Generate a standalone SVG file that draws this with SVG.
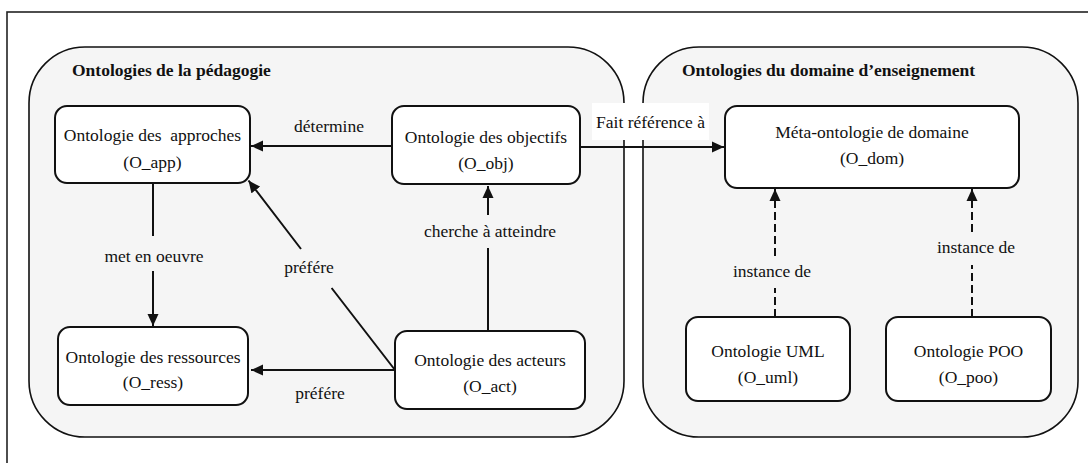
<svg xmlns="http://www.w3.org/2000/svg" width="1088" height="463" viewBox="0 0 1088 463">
<style>
text{font-family:"Liberation Serif","Times New Roman",Tinos,"DejaVu Serif",serif;font-size:17.5px;fill:#111;text-anchor:middle}
.title{font-weight:bold;text-anchor:start}
.cont{fill:#f5f5f5;stroke:#111;stroke-width:1.6}
.node{fill:#fff;stroke:#111;stroke-width:2}
.edge{fill:none;stroke:#111;stroke-width:2}
.dash{stroke-dasharray:8,4}
</style>
<defs>
<marker id="arr" markerUnits="userSpaceOnUse" markerWidth="13" markerHeight="12" refX="12" refY="6" orient="auto">
<path d="M0,0.5 L12,6 L0,11.5 z" fill="#111" stroke="none"/>
</marker>
</defs>
<rect x="7" y="12" width="1100" height="470" fill="#fff" stroke="#222" stroke-width="1.6"/>
<g id="container-pedagogie">
<rect class="cont" x="29" y="47" width="595" height="390" rx="56" ry="56"/>
<text class="title" x="72" y="76">Ontologies de la pédagogie</text>
</g>
<g id="container-domaine">
<rect class="cont" x="643" y="47" width="435" height="390" rx="56" ry="56"/>
<text class="title" x="682" y="76">Ontologies du domaine d’enseignement</text>
</g>
<g id="O_app">
<rect class="node" x="55" y="106" width="195" height="77" rx="12"/>
<text x="152.5" y="141" xml:space="preserve">Ontologie des  approches</text>
<text x="152.5" y="168">(O_app)</text>
</g>
<g id="O_obj">
<rect class="node" x="392" y="106" width="188" height="78" rx="12"/>
<text x="486" y="143">Ontologie des objectifs</text>
<text x="486" y="169">(O_obj)</text>
</g>
<g id="O_ress">
<rect class="node" x="58" y="327" width="190" height="78" rx="12"/>
<text x="153" y="363">Ontologie des ressources</text>
<text x="153" y="388">(O_ress)</text>
</g>
<g id="O_act">
<rect class="node" x="395" y="331" width="190" height="78" rx="12"/>
<text x="490" y="366">Ontologie des acteurs</text>
<text x="490" y="392">(O_act)</text>
</g>
<g id="O_dom">
<rect class="node" x="725" y="106" width="294" height="82" rx="12"/>
<text x="872" y="138">Méta-ontologie de domaine</text>
<text x="872" y="164">(O_dom)</text>
</g>
<g id="O_uml">
<rect class="node" x="686" y="317" width="164" height="84" rx="12"/>
<text x="768" y="357">Ontologie UML</text>
<text x="768" y="383">(O_uml)</text>
</g>
<g id="O_poo">
<rect class="node" x="886" y="317" width="165" height="84" rx="12"/>
<text x="968.5" y="357">Ontologie POO</text>
<text x="968.5" y="383">(O_poo)</text>
</g>
<g id="connectors">
<path class="edge" d="M392,146 H251" marker-end="url(#arr)"/>
<text x="329" y="132">détermine</text>
<path class="edge" d="M153,183 V236 M153,271 V326" marker-end="url(#arr)"/>
<text x="154" y="262">met en oeuvre</text>
<path class="edge" d="M395,370 L331.6,288 M301,249 L248.5,180.5" marker-end="url(#arr)"/>
<text x="309" y="273">préfére</text>
<path class="edge" d="M395,370 H251" marker-end="url(#arr)"/>
<text x="320" y="399">préfére</text>
<path class="edge" d="M488,331 V248 M488,215 V186" marker-end="url(#arr)"/>
<text x="490" y="237">cherche à atteindre</text>
<rect x="592" y="103" width="117" height="37" fill="#fff"/>
<path class="edge" d="M580,147 H724" marker-end="url(#arr)"/>
<text x="650.5" y="128">Fait référence à</text>
<path class="edge dash" d="M775,317 V288 M775,256 V201"/>
<path class="edge" d="M775,201 V189" marker-end="url(#arr)"/>
<text x="772" y="277">instance de</text>
<path class="edge dash" d="M972,317 V265 M972,232 V201"/>
<path class="edge" d="M972,201 V189" marker-end="url(#arr)"/>
<text x="976" y="253">instance de</text>
</g>
</svg>
